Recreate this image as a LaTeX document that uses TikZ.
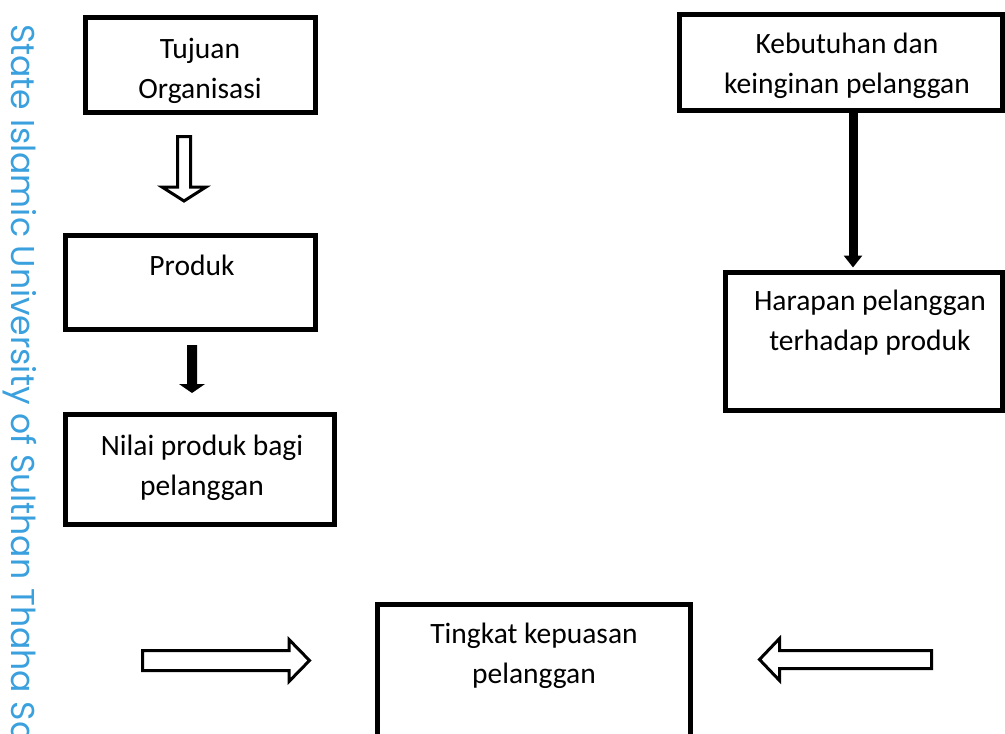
\documentclass[tikz,border=0pt]{standalone}
\usepackage{fontspec}
\setmainfont{Carlito}
\newfontfamily\wmfont{Poppins}
\usetikzlibrary{arrows.meta,calc}
\definecolor{wmblue}{RGB}{58,160,222}
\begin{document}
\begin{tikzpicture}[x=1pt,y=-1pt,
  box/.style={draw=black, line width=5pt, inner sep=0pt, fill=white},
  txt/.style={font=\fontsize{29.5}{40}\selectfont, inner sep=0pt, anchor=base},
  hollow/.style={draw=black, line width=3pt, fill=white, line join=miter},
  solidarrow/.style={fill=black, draw=none},
  thickarrow/.style={draw=black, line width=9pt, -{Triangle[length=12pt,width=18pt]}}]
\useasboundingbox[fill=white] (0,0) rectangle (1005,734);
\clip (0,0) rectangle (1005,734);

% watermark
\node[rotate=-90, anchor=base west, inner sep=0pt, text=wmblue,
      font=\wmfont\fontsize{33}{33}\selectfont] (wm) at (11,24)
      {State Islamic University of Sulthan Thaha Sa};

% boxes
\node[box, minimum width=230pt, minimum height=95pt] (b1) at (200.5,65) {};
\node[box, minimum width=250pt, minimum height=94pt] (b2) at (190.5,282.5) {};
\node[box, minimum width=269pt, minimum height=110pt] (b3) at (200,469.5) {};
\node[box, minimum width=323pt, minimum height=96pt] (bK) at (841,62.5) {};
\node[box, minimum width=277pt, minimum height=138pt] (bH) at (864,341.5) {};
\node[box, minimum width=313pt, minimum height=173pt] (bT) at (534,691) {};

% texts
\node[txt] (t1a) at (200,58) {Tujuan};
\node[txt] (t1b) at (200,98) {Organisasi};
\node[txt] (t2) at (192,275) {Produk};
\node[txt] (t3a) at (202,455) {Nilai produk bagi};
\node[txt] (t3b) at (202,495) {pelanggan};
\node[txt] (tKa) at (847,53) {Kebutuhan dan};
\node[txt] (tKb) at (847,93) {keinginan pelanggan};
\node[txt] (tHa) at (870,310) {Harapan pelanggan};
\node[txt] (tHb) at (870,350) {terhadap produk};
\node[txt] (tTa) at (534,643) {Tingkat kepuasan};
\node[txt] (tTb) at (534,683) {pelanggan};

% arrows
\draw[hollow] (177.5,136.5) -- (190.5,136.5) -- (190.5,187) -- (206,187)
   -- (184,201) -- (162,187) -- (177.5,187) -- cycle;
\fill[solidarrow] (187,345) -- (197,345) -- (197,384) -- (205,384)
   -- (192,393) -- (179,384) -- (187,384) -- cycle;
\draw[thickarrow] ($(bK.south)+(12,0)$) -- ($(bH.north)+(-11,-2.5)$);
\draw[hollow] (142.5,650.5) -- (289,650.5) -- (289,639.5) -- (309.5,660.5)
   -- (289,681.5) -- (289,670.5) -- (142.5,670.5) -- cycle;
\draw[hollow] (931.5,650.5) -- (779.5,650.5) -- (779.5,638.5) -- (759.5,659.5)
   -- (779.5,680.5) -- (779.5,668.5) -- (931.5,668.5) -- cycle;
\end{tikzpicture}
\end{document}
